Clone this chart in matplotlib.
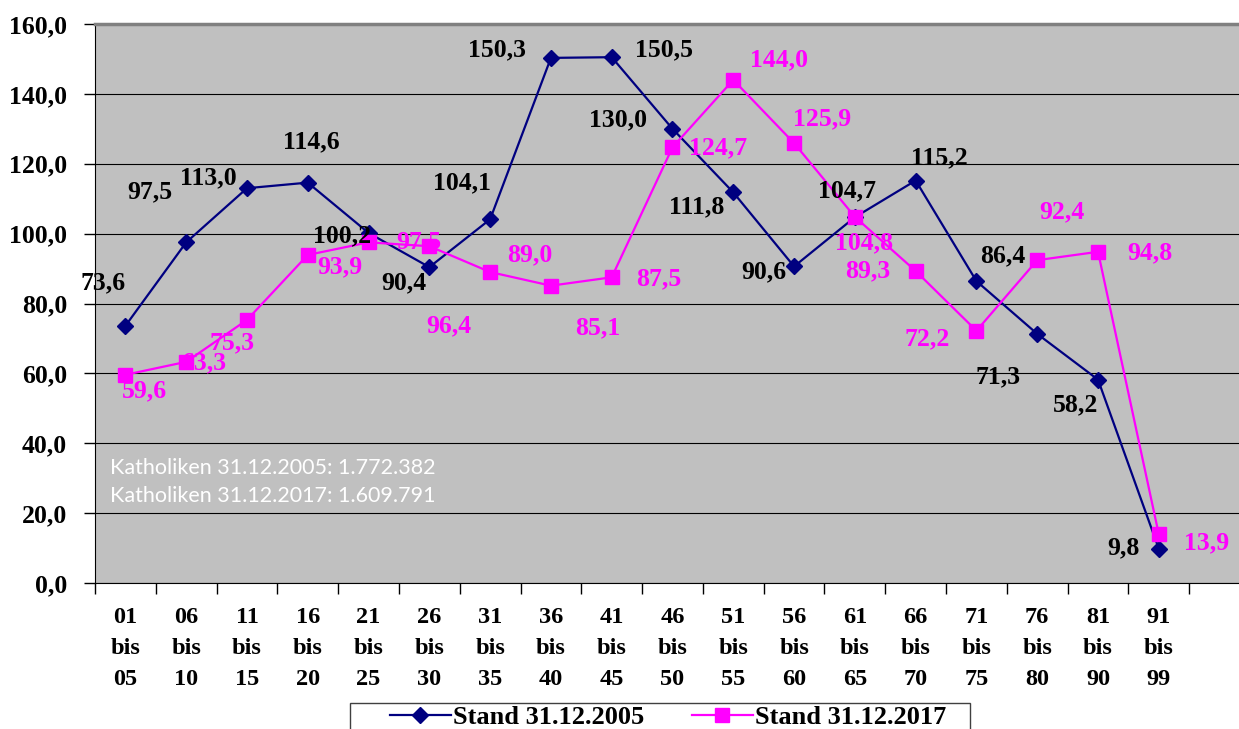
import numpy as np
import matplotlib
matplotlib.use("Agg")
import matplotlib.pyplot as plt
from matplotlib.patches import Rectangle

categories = ["01\nbis\n05", "06\nbis\n10", "11\nbis\n15", "16\nbis\n20", "21\nbis\n25",
              "26\nbis\n30", "31\nbis\n35", "36\nbis\n40", "41\nbis\n45", "46\nbis\n50",
              "51\nbis\n55", "56\nbis\n60", "61\nbis\n65", "66\nbis\n70", "71\nbis\n75",
              "76\nbis\n80", "81\nbis\n90", "91\nbis\n99"]
stand_2005 = [73.6, 97.5, 113.0, 114.6, 100.2, 90.4, 104.1, 150.3, 150.5, 130.0,
              111.8, 90.6, 104.7, 115.2, 86.4, 71.3, 58.2, 9.8]
stand_2017 = [59.6, 63.3, 75.3, 93.9, 97.5, 96.4, 89.0, 85.1, 87.5, 124.7,
              144.0, 125.9, 104.8, 89.3, 72.2, 92.4, 94.8, 13.9]
series_names = ["Stand 31.12.2005", "Stand 31.12.2017"]
info_lines = ["Katholiken 31.12.2005: 1.772.382", "Katholiken 31.12.2017: 1.609.791"]

# label offsets in pixels (dx, dy with y pointing down)
off_2005 = [(-22, -43), (-36, -51), (-39, -10), (4, -41), (-26, 3), (-26, 16), (-28, -36),
            (-54, -8), (52, -7), (-54, -9), (-37, 14), (-30, 5), (-8, -26), (24, -23),
            (26, -25), (-39, 43), (-22, 25), (-35, -1)]
off_2017 = [(19, 16), (18, 1), (-15, 23), (32, 12), (50, -1), (19, 80), (40, -17),
            (47, 42), (47, 2), (46, 0), (46, -20), (28, -24), (9, 26), (-48, 0),
            (-49, 8), (25, -48), (52, 1), (48, 8)]

navy = "#000080"
magenta = "#FF00FF"
serif = "Liberation Serif"

W, H = 1239, 729
fig = plt.figure(figsize=(W / 100, H / 100), dpi=100)
fig.patch.set_facecolor("white")
ax = fig.add_axes([95 / W, (H - 583) / H, (1250 - 95) / W, (583 - 24) / H])
ax.set_facecolor("#C0C0C0")

x = np.arange(len(categories))
ax.plot(x, stand_2005, color=navy, lw=1.6, marker="D", ms=8.5, label=series_names[0], zorder=3)
ax.plot(x, stand_2017, color=magenta, lw=1.6, marker="s", ms=10, label=series_names[1], zorder=3)

def fmt(v):
    return f"{v:.1f}".replace(".", ",")

for xi, v, (dx, dy) in zip(x, stand_2005, off_2005):
    ax.annotate(fmt(v), (xi, v), xytext=(dx, -dy), textcoords="offset pixels",
                ha="center", va="center", color="black", fontsize=18.5,
                fontweight="bold", family=serif, zorder=4)
for xi, v, (dx, dy) in zip(x, stand_2017, off_2017):
    ax.annotate(fmt(v), (xi, v), xytext=(dx, -dy), textcoords="offset pixels",
                ha="center", va="center", color=magenta, fontsize=18.5,
                fontweight="bold", family=serif, zorder=4)

ax.set_xlim(-0.5, len(categories) + 0.5)
ax.set_ylim(0, 160)
ax.set_yticks(np.arange(0, 161, 20))
ax.set_yticklabels([fmt(v) for v in np.arange(0, 161, 20)], fontsize=18.5,
                   fontweight="bold", family=serif)
ax.yaxis.grid(True, color="black", lw=0.8)
ax.set_axisbelow(True)

ax.set_xticks(np.arange(-0.5, len(categories) + 1, 1))
ax.set_xticklabels([])
ax.set_xticks(x, minor=True)
ax.set_xticklabels(categories, minor=True, fontsize=17.5, fontweight="bold",
                   family=serif, linespacing=1.65)
ax.tick_params(axis="x", which="minor", length=0, pad=17)
ax.tick_params(axis="x", which="major", length=8, width=1, direction="out")
ax.tick_params(axis="y", length=8, width=1, direction="out", pad=12)

ax.spines["top"].set_color("#808080")
ax.spines["top"].set_linewidth(2.5)
ax.spines["right"].set_visible(False)
ax.spines["left"].set_color("black")
ax.spines["bottom"].set_color("black")

ax.text(-0.25, 33.0, info_lines[0], color="white", fontsize=15.5, family="Lato",
        va="center", ha="left")
ax.text(-0.25, 25.0, info_lines[1], color="white", fontsize=15.5, family="Lato",
        va="center", ha="left")

# legend box, cut by the lower edge of the picture
fig.patches.append(Rectangle((350 / W, -0.02), 620 / W, 0.02 + (H - 703) / H,
                             transform=fig.transFigure, fill=False,
                             edgecolor="#404040", lw=1))
leg = fig.legend(loc="center left", bbox_to_anchor=(390 / W, 1 - 717 / H), ncol=2,
                 frameon=False, handlelength=2.3, handletextpad=0.1,
                 columnspacing=1.8, borderpad=0, borderaxespad=0,
                 prop={"family": serif, "weight": "bold", "size": 19})

fig.savefig("out.png", dpi=100)
